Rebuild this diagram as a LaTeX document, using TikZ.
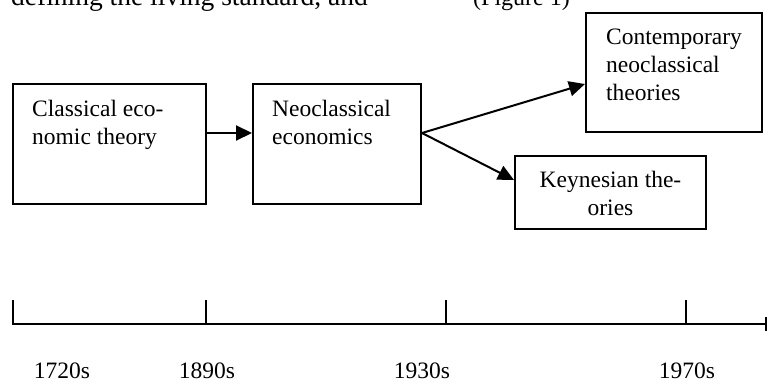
\documentclass[tikz,border=0pt]{standalone}
\usepackage{fontspec}
\setmainfont{Liberation Serif}
\usetikzlibrary{arrows.meta}

\tikzset{
  stagebox/.style={draw, line width=2pt, inner sep=0pt},
  stagetext/.style={inner sep=0pt, align=left, font=\fontsize{23.5}{28}\selectfont},
  flow/.style={line width=2pt, -{Triangle[length=16pt,width=15pt]}},
  yearlabel/.style={inner sep=0pt, anchor=base, font=\fontsize{23.5}{28}\selectfont},
}

\begin{document}
\begin{tikzpicture}[x=1pt,y=-1pt]
        \clip (0,0) rectangle (768,383);

        % running text cut by the figure
        \node[inner sep=0pt, anchor=base west, font=\fontsize{27.5}{32}\selectfont] (prose) at (11,5) {defining the living standard, and};
        \node[inner sep=0pt, anchor=base west, font=\fontsize{24}{28}\selectfont] (figref) at (473,5) {(Figure 1)};

        % stages
        \node[stagebox, minimum width=193pt, minimum height=120pt] (classical) at (109.5,144) {};
        \node[stagebox, minimum width=168pt, minimum height=120pt] (neoclassical) at (337,144) {};
        \node[stagebox, minimum width=176pt, minimum height=119pt] (contemporary) at (674,72.5) {};
        \node[stagebox, minimum width=191pt, minimum height=73pt] (keynesian) at (610.5,192.5) {};

        \node[stagetext, anchor=north west] (classical-t) at ([shift={(20pt,-17pt)}]classical.north west) {Classical eco-\\nomic theory};
        \node[stagetext, anchor=north west] (neoclassical-t) at ([shift={(20pt,-17pt)}]neoclassical.north west) {Neoclassical\\economics};
        \node[stagetext, anchor=north west] (contemporary-t) at ([shift={(21pt,-17pt)}]contemporary.north west) {Contemporary\\neoclassical\\theories};
        \node[stagetext, align=center, anchor=north] (keynesian-t) at ([yshift=-16pt]keynesian.north) {Keynesian the-\\ories};

        \draw[flow] ([yshift=11pt]classical.east) -- ([yshift=11pt]neoclassical.west);
        \draw[flow] ([yshift=11pt]neoclassical.east) -- ([yshift=-11.5pt]contemporary.west);
        \draw[flow] ([yshift=11pt]neoclassical.east) -- ([yshift=12.5pt]keynesian.west);

        % time axis
        \coordinate (axis-start) at (13,324);
        \coordinate (axis-end) at (767,324);
        \draw[line width=2.5pt, -{Bar[width=14pt,line width=2pt]}] (axis-start) -- (axis-end);
        \foreach \x in {13,206,446,686}
          \draw[line width=1.5pt] (\x,325) -- (\x,300);

        \node[yearlabel] (y1720) at (62,378) {1720s};
        \node[yearlabel] (y1890) at (207,378) {1890s};
        \node[yearlabel] (y1930) at (422,378) {1930s};
        \node[yearlabel] (y1970) at (687,378) {1970s};
    \end{tikzpicture}
\end{document}
